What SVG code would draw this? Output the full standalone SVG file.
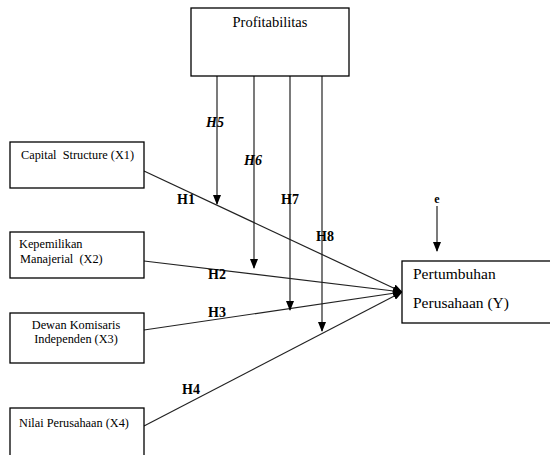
<svg xmlns="http://www.w3.org/2000/svg" width="550" height="455" viewBox="0 0 550 455">
<defs>
<marker id="ah" markerWidth="10" markerHeight="8" refX="9" refY="4" orient="auto" markerUnits="userSpaceOnUse">
<path d="M0,0 L10,4 L0,8 Z" fill="#000"/>
</marker>
<style>
.box{fill:#fff;stroke:#000;stroke-width:1.3}
text{font-family:'Liberation Serif','DejaVu Serif',serif}
.t{font-size:12.3px;fill:#000}
.big{font-size:14.5px}
.big2{font-size:15.5px}
.h{font-size:14px;font-weight:bold;fill:#000}
.e{font-size:12px}
.hi{font-style:italic}
.ln{stroke:#222;stroke-width:1.2;fill:none}
</style>
</defs>
<rect width="550" height="455" fill="#fff"/>
<g id="connectors">
<line class="ln" x1="144" y1="171" x2="402" y2="292" marker-end="url(#ah)"/>
<line class="ln" x1="144" y1="261" x2="402" y2="292" marker-end="url(#ah)"/>
<line class="ln" x1="144" y1="330" x2="402" y2="292" marker-end="url(#ah)"/>
<line class="ln" x1="144" y1="426" x2="402" y2="292" marker-end="url(#ah)"/>
<line class="ln" x1="217" y1="76" x2="217" y2="204" marker-end="url(#ah)"/>
<line class="ln" x1="254" y1="76" x2="254" y2="268" marker-end="url(#ah)"/>
<line class="ln" x1="290" y1="76" x2="290" y2="310" marker-end="url(#ah)"/>
<line class="ln" x1="322" y1="76" x2="322" y2="331" marker-end="url(#ah)"/>
<line class="ln" x1="437" y1="206" x2="437" y2="251" marker-end="url(#ah)"/>
<text class="h" x="177" y="204">H1</text>
<text class="h" x="208" y="279">H2</text>
<text class="h" x="208" y="317">H3</text>
<text class="h" x="182" y="394">H4</text>
<text class="h hi" x="206" y="127">H5</text>
<text class="h hi" x="244" y="165">H6</text>
<text class="h" x="281" y="204">H7</text>
<text class="h" x="316" y="241">H8</text>
<text class="h e" x="437" y="203" text-anchor="middle">e</text>
</g>
<g id="profitabilitas">
<rect class="box" x="191" y="8" width="158" height="68"/>
<text class="t big" x="270" y="27" text-anchor="middle">Profitabilitas</text>
</g>
<g id="x1">
<rect class="box" x="10" y="142" width="134" height="46"/>
<text class="t" x="21" y="159" xml:space="preserve">Capital  Structure (X1)</text>
</g>
<g id="x2">
<rect class="box" x="10" y="232" width="134" height="46"/>
<text class="t" x="19" y="248">Kepemilikan</text>
<text class="t" x="20" y="263" xml:space="preserve">Manajerial  (X2)</text>
</g>
<g id="x3">
<rect class="box" x="10" y="313" width="134" height="50"/>
<text class="t" x="76" y="329" text-anchor="middle">Dewan Komisaris</text>
<text class="t" x="76" y="343" text-anchor="middle">Independen (X3)</text>
</g>
<g id="x4">
<rect class="box" x="10" y="408" width="134" height="52"/>
<text class="t" x="19" y="427">Nilai Perusahaan (X4)</text>
</g>
<g id="y">
<rect class="box" x="402" y="261" width="152" height="62"/>
<text class="t big2" x="413" y="279">Pertumbuhan</text>
<text class="t big2" x="413" y="308">Perusahaan (Y)</text>
</g>
</svg>
